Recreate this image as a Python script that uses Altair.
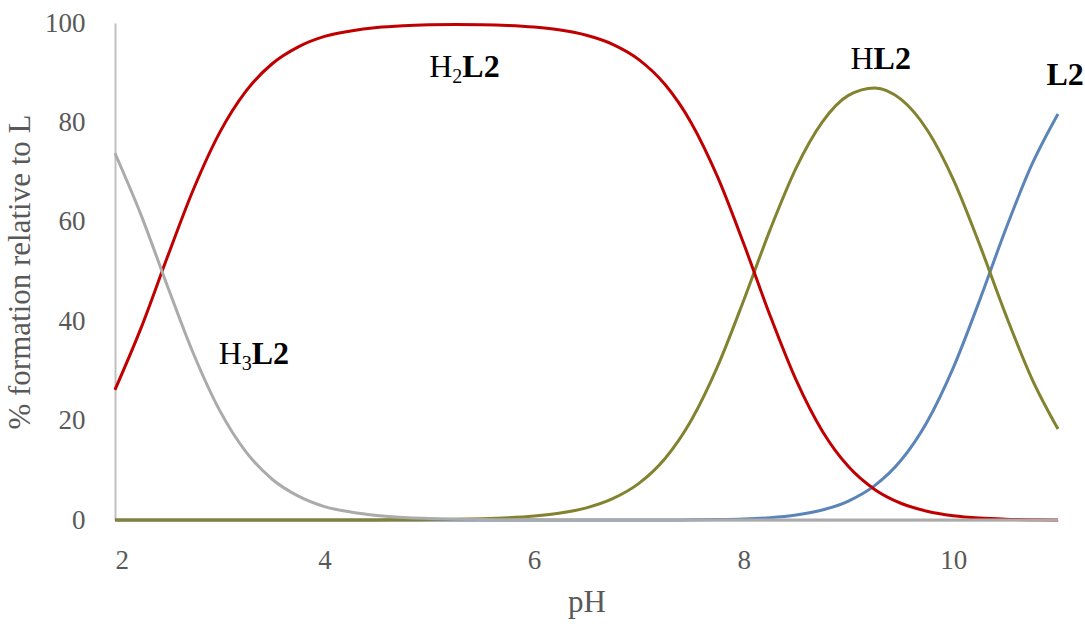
import altair as alt
import pandas as pd

# pH grid and % formation of each species
ph = [2.0, 2.25, 2.5, 2.75, 3.0, 3.25, 3.5, 3.75, 4.0, 4.25, 4.5, 4.75, 5.0, 5.25,
      5.5, 5.75, 6.0, 6.25, 6.5, 6.75, 7.0, 7.25, 7.5, 7.75, 8.0, 8.25, 8.5, 8.75,
      9.0, 9.25, 9.5, 9.75, 10.0, 10.25, 10.5, 10.75, 11.0]
h3l2 = [73.8, 61.3, 47.1, 33.4, 22.0, 13.7, 8.2, 4.8, 2.7, 1.6, 0.9, 0.5, 0.3, 0.16,
        0.09, 0.05, 0.03, 0.02, 0.01, 0.0, 0.0, 0.0, 0.0, 0.0, 0.0, 0.0, 0.0, 0.0,
        0.0, 0.0, 0.0, 0.0, 0.0, 0.0, 0.0, 0.0, 0.0]
h2l2 = [26.2, 38.7, 52.9, 66.6, 78.0, 86.3, 91.8, 95.2, 97.3, 98.4, 99.1, 99.46, 99.64, 99.7,
        99.66, 99.51, 99.18, 98.59, 97.54, 95.72, 92.64, 87.61, 79.9, 69.07, 55.62, 41.26, 28.19, 17.92,
        10.75, 6.15, 3.37, 1.76, 0.86, 0.39, 0.16, 0.06, 0.02]
hl2 = [0.0, 0.0, 0.0, 0.0, 0.0, 0.0, 0.0, 0.0, 0.0, 0.0, 0.02, 0.04, 0.08, 0.14,
       0.25, 0.44, 0.79, 1.39, 2.45, 4.28, 7.36, 12.38, 20.07, 30.85, 44.18, 58.28, 70.81, 80.06,
       85.43, 86.94, 84.67, 78.52, 68.53, 55.51, 41.38, 28.46, 18.29]
l2 = [0.0, 0.0, 0.0, 0.0, 0.0, 0.0, 0.0, 0.0, 0.0, 0.0, 0.0, 0.0, 0.0, 0.0,
      0.0, 0.0, 0.0, 0.0, 0.0, 0.0, 0.0, 0.01, 0.03, 0.08, 0.2, 0.46, 1.0, 2.01,
      3.82, 6.91, 11.96, 19.72, 30.61, 44.09, 58.45, 71.48, 81.69]

x_ticks = [2, 4, 6, 8, 10]
y_ticks = [0, 20, 40, 60, 80, 100]

# species labels: position (pH, %), prefix, subscript, bold part
label_x = [5.0, 2.99, 9.02, 10.89]
label_y = [89.1, 31.4, 90.7, 87.5]
label_prefix = ["H", "H", "H", ""]
label_sub = ["2", "3", "", ""]
label_bold = ["L2", "L2", "L2", "L2"]

series = [("L2", l2, "#5b84b8"), ("HL2", hl2, "#82822f"),
          ("H2L2", h2l2, "#c00000"), ("H3L2", h3l2, "#ababab")]

xs = alt.X("pH:Q", scale=alt.Scale(domain=[2, 11], nice=False, zero=False),
           axis=alt.Axis(values=x_ticks, title="pH", labelPadding=27, titlePadding=14))
ys = alt.Y("v:Q", scale=alt.Scale(domain=[0, 100], nice=False),
           axis=alt.Axis(values=y_ticks, title="% formation relative to L",
                         labelPadding=30, titlePadding=8))

layers = []
for name, vals, col in series:
    d = pd.DataFrame({"pH": ph, "v": vals})
    layers.append(alt.Chart(d).mark_line(color=col, strokeWidth=3, interpolate="monotone")
                  .encode(x=xs, y=ys))

FONT = "Liberation Serif"
for lx, ly, pre, sub, bold in zip(label_x, label_y, label_prefix, label_sub, label_bold):
    d = pd.DataFrame({"pH": [lx], "v": [ly]})
    off = 0
    if pre:
        layers.append(alt.Chart(d).mark_text(text=pre, align="left", baseline="alphabetic",
                                             font=FONT, fontSize=32, color="#000000")
                      .encode(x=xs, y=ys))
        off += 23
    if sub:
        layers.append(alt.Chart(d).mark_text(text=sub, align="left", baseline="alphabetic",
                                             font=FONT, fontSize=20, color="#000000",
                                             dx=off, dy=6)
                      .encode(x=xs, y=ys))
        off += 10
    layers.append(alt.Chart(d).mark_text(text=bold, align="left", baseline="alphabetic",
                                         font=FONT, fontSize=32, fontWeight="bold",
                                         color="#000000", dx=off)
                  .encode(x=xs, y=ys))

chart = alt.layer(*layers).properties(
    width=943, height=497,
    autosize=alt.AutoSizeParams(type="none"),
    padding={"left": 115, "top": 23, "right": 27, "bottom": 107},
).configure_view(stroke=None).configure_axis(
    grid=False, ticks=False, domainColor="#bfbfbf", domainWidth=2,
    labelFont=FONT, labelFontSize=27, labelColor="#595959",
    titleFont=FONT, titleFontSize=31, titleFontWeight="normal", titleColor="#595959",
)

chart.save("out.html", embed_options={"renderer": "svg", "actions": False})
